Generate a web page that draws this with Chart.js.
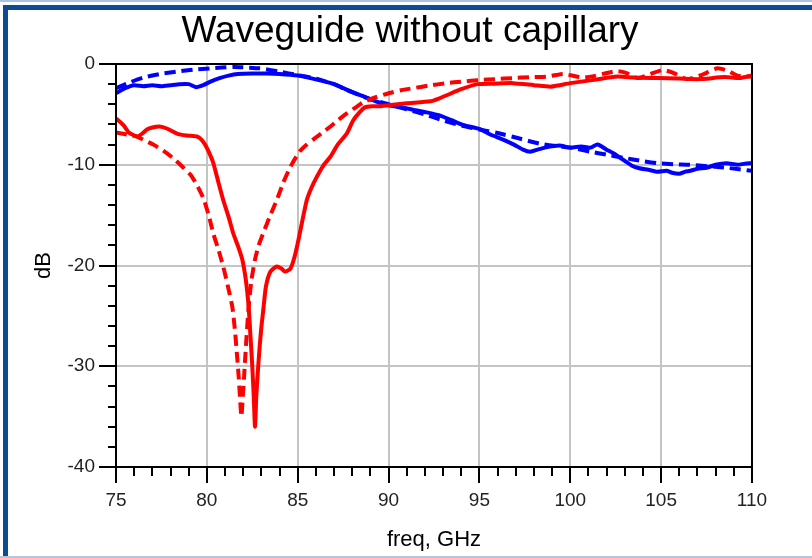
<!DOCTYPE html>
<html>
<head>
<meta charset="utf-8">
<script src="https://cdn.jsdelivr.net/npm/chart.js@4"></script>
<style>
  html, body { margin: 0; padding: 0; background: #fff; }
  #wrap { position: relative; width: 812px; height: 558px; overflow: hidden; }
  #topline { position: absolute; left: 0; top: 0; width: 812px; height: 2px; background: #a9c3e2; }
  #frame { position: absolute; left: 3px; top: 5px; width: 900px; height: 700px;
           border-top: 5px solid #0d4b93; border-left: 5px solid #0d4b93; }
  #botline { position: absolute; left: 0; top: 556px; width: 812px; height: 2px; background: #b9c4d6; }
  canvas { position: absolute; left: 0; top: 0; }
</style>
</head>
<body>
<div id="wrap">
  <div id="topline"></div>
  <div id="frame"></div>
  <div id="botline"></div>
  <canvas id="chart" width="812" height="558"></canvas>
</div>
<script>
// measured, solid red
var redFreq = [75, 75.4, 75.7, 75.95, 76.2, 76.45, 76.7, 77, 77.4, 77.8, 78.35, 78.9, 79.45, 79.7, 79.9, 80.15, 80.35, 80.6, 80.9, 81.2, 81.45, 81.7, 81.95, 82.15, 82.3, 82.4, 82.5, 82.58, 82.65, 82.72, 82.8, 82.9, 83.0, 83.1, 83.25, 83.5, 83.85, 84.1, 84.3, 84.6, 84.8, 85, 85.25, 85.5, 85.75, 86.05, 86.4, 86.8, 87.2, 87.7, 88.05, 88.4, 88.7, 89.1, 89.5, 90, 91, 92.3, 92.8, 93.2, 94, 94.9, 95.8, 96.85, 98, 98.9, 99.4, 100, 101.2, 102.6, 103.5, 104.8, 106, 107.1, 108.5, 109.3, 110];
var redDb = [-5.4, -6.05, -6.8, -7.05, -7.2, -6.9, -6.5, -6.3, -6.2, -6.4, -6.9, -7.1, -7.2, -7.5, -8.0, -8.9, -9.8, -11.5, -13.5, -15.2, -16.8, -18.0, -19.4, -21.5, -24.1, -27, -30.0, -33, -36.0, -33, -30.7, -28.2, -26.1, -24.5, -22.1, -20.6, -20.1, -20.3, -20.6, -20.3, -19.3, -17.8, -15.6, -13.5, -12.3, -11.2, -10.1, -9.2, -8.0, -6.9, -5.6, -4.8, -4.3, -4.2, -4.2, -4.1, -3.9, -3.7, -3.4, -3.1, -2.5, -2.0, -1.95, -1.9, -2.1, -2.25, -2.1, -1.9, -1.6, -1.25, -1.35, -1.4, -1.45, -1.5, -1.3, -1.4, -1.15];

// simulated, dashed red
var redSimFreq = [75, 75.6, 76.15, 76.6, 77.05, 77.6, 78.15, 78.6, 79.1, 79.45, 79.8, 80.1, 80.35, 80.65, 80.9, 81.15, 81.4, 81.55, 81.65, 81.75, 81.82, 81.9, 81.98, 82.05, 82.15, 82.3, 82.45, 82.65, 82.85, 83.1, 83.45, 83.85, 84.2, 84.6, 85.1, 85.5, 85.85, 86.3, 86.8, 87.2, 87.7, 88.2, 88.6, 89.3, 90, 90.7, 91.35, 92.2, 93.2, 94, 95, 95.9, 96.85, 97.8, 98.7, 99.2, 99.6, 100.1, 100.7, 101.3, 102, 102.6, 103.1, 103.7, 104.4, 105.1, 105.7, 106.4, 107.2, 108.1, 108.7, 109.2, 110];
var redSimDb = [-6.8, -7.0, -7.2, -7.6, -8.0, -8.6, -9.35, -10.1, -11.0, -12.0, -13.3, -15.0, -16.8, -18.5, -20.1, -22.0, -24.1, -26.5, -28.7, -31, -33, -35.0, -33, -31, -28, -24.1, -21.5, -19.4, -18.0, -16.8, -15.2, -13.5, -11.8, -10.2, -8.7, -8.0, -7.5, -6.9, -6.2, -5.6, -4.9, -4.3, -3.8, -3.3, -2.9, -2.6, -2.4, -2.15, -1.9, -1.75, -1.6, -1.5, -1.4, -1.3, -1.25, -1.1, -1.0, -1.15, -1.35, -1.2, -0.9, -0.7, -0.9, -1.4, -1.0, -0.6, -0.9, -1.5, -1.1, -0.43, -0.7, -1.15, -1.25];

// measured, solid blue
var blueFreq = [75, 75.5, 76, 76.5, 77, 77.5, 78, 78.5, 79, 79.4, 79.8, 80.2, 80.7, 81.2, 81.7, 82.5, 83.3, 84, 85, 85.7, 86.4, 87, 87.5, 88, 88.6, 89.3, 90, 90.7, 91.4, 92.1, 92.8, 93.5, 94.1, 95, 95.6, 96.3, 96.9, 97.4, 97.8, 98.2, 98.6, 99.4, 100, 100.6, 101.1, 101.5, 102, 102.5, 102.9, 103.4, 103.8, 104.3, 104.8, 105.3, 105.6, 106, 106.3, 106.6, 107, 107.5, 108, 108.6, 109.2, 109.6, 110];
var blueDb = [-2.9, -2.4, -2.1, -2.2, -2.1, -2.2, -2.1, -2.0, -2.0, -2.3, -2.1, -1.75, -1.4, -1.15, -1.0, -0.95, -0.95, -1.0, -1.15, -1.4, -1.7, -2.0, -2.4, -2.8, -3.2, -3.7, -4.1, -4.3, -4.55, -4.8, -5.1, -5.6, -6.05, -6.45, -7.0, -7.5, -8.0, -8.5, -8.7, -8.5, -8.3, -8.1, -8.3, -8.2, -8.3, -8.0, -8.5, -9.0, -9.5, -10.1, -10.35, -10.5, -10.7, -10.6, -10.8, -10.9, -10.7, -10.6, -10.4, -10.3, -10.0, -9.85, -10.0, -9.9, -9.85];

// simulated, dashed blue
var blueSimFreq = [75, 75.8, 76.5, 77.4, 78.35, 79.3, 80.2, 81.45, 82.2, 82.9, 84, 85, 86, 87, 88, 89, 90, 91, 92, 93, 94, 95, 96, 97.1, 98.3, 99.5, 100, 101.1, 102, 102.9, 104, 104.8, 105.7, 106.6, 107.6, 108.6, 110];
var blueSimDb = [-2.4, -1.8, -1.35, -1.0, -0.76, -0.55, -0.43, -0.3, -0.35, -0.43, -0.76, -1.1, -1.45, -2.0, -2.8, -3.5, -4.0, -4.5, -5.0, -5.6, -6.1, -6.5, -6.85, -7.35, -7.9, -8.2, -8.3, -8.7, -9.0, -9.3, -9.65, -9.85, -9.95, -10.0, -10.15, -10.3, -10.6];

function pts(xs, ys) {
    return xs.map(function (x, i) { return { x: x, y: ys[i] }; });
}

// small ticks between labelled ones, and the box round the plot
var frame = {
    id: 'frame',
    afterDraw: function (chart) {
        var c = chart.ctx, a = chart.chartArea;
        var xs = chart.scales.x, ys = chart.scales.y;
        c.save();
        c.strokeStyle = '#000';
        c.lineWidth = 2;
        c.beginPath();
        for (var f = 76; f < 110; f++) {
            if (f % 5 === 0) continue;
            var px = Math.round(xs.getPixelForValue(f));
            c.moveTo(px, a.bottom);
            c.lineTo(px, a.bottom + 9);
        }
        for (var d = -38; d < 0; d += 2) {
            if (d % 10 === 0) continue;
            var py = Math.round(ys.getPixelForValue(d));
            c.moveTo(a.left - 8, py);
            c.lineTo(a.left, py);
        }
        c.stroke();
        c.strokeRect(a.left, a.top, a.right - a.left, a.bottom - a.top);
        c.restore();
    }
};

var ctx = document.getElementById('chart').getContext('2d');
var chart = new Chart(ctx, {
    type: 'line',
    data: {
        datasets: [{
            label: 'meas red',
            data: pts(redFreq, redDb),
            borderColor: '#ff0000',
            borderWidth: 4
        }, {
            label: 'sim red',
            data: pts(redSimFreq, redSimDb),
            borderColor: '#ff0000',
            borderWidth: 4,
            borderDash: [11, 6]
        }, {
            label: 'meas blue',
            data: pts(blueFreq, blueDb),
            borderColor: '#0000ff',
            borderWidth: 4
        }, {
            label: 'sim blue',
            data: pts(blueSimFreq, blueSimDb),
            borderColor: '#0000ff',
            borderWidth: 4,
            borderDash: [11, 6]
        }]
    },
    options: {
        responsive: false,
        animation: false,
        parsing: false,
        elements: { point: { radius: 0 }, line: { tension: 0.2 } },
        layout: { padding: { left: 8, right: 0, top: 0, bottom: 0 } },
        plugins: {
            legend: { display: false },
            tooltip: { enabled: false },
            title: {
                display: true,
                text: 'Waveguide without capillary',
                color: '#000',
                font: { family: 'Liberation Sans', size: 37, weight: 'normal' },
                padding: { top: 10, bottom: 9.6 }
            }
        },
        scales: {
            x: {
                type: 'linear',
                min: 75,
                max: 110,
                ticks: { stepSize: 5, color: '#222', padding: 6, font: { family: 'Liberation Sans', size: 19 } },
                grid: { color: '#c4c4c4', lineWidth: 2, tickColor: '#000', tickLength: 16, tickWidth: 2 },
                border: { color: '#000', width: 2 },
                title: { display: true, text: 'freq, GHz', color: '#000',
                         font: { family: 'Liberation Sans', size: 22 }, padding: { top: 0, bottom: 5 } },
                afterFit: function (s) { s.height = 91; }
            },
            y: {
                min: -40,
                max: 0,
                ticks: { stepSize: 10, color: '#222', padding: 4, font: { family: 'Liberation Sans', size: 19 } },
                grid: { color: '#c4c4c4', lineWidth: 2, tickColor: '#000', tickLength: 17, tickWidth: 2 },
                border: { color: '#000', width: 2 },
                title: { display: true, text: 'dB', color: '#000',
                         font: { family: 'Liberation Sans', size: 22 }, padding: { top: 23, bottom: 0 } },
                afterFit: function (s) { s.width = 108; }
            },
            // empty right margin so the title centres on the whole slide
            y2: {
                position: 'right',
                min: -40,
                max: 0,
                ticks: { display: false },
                grid: { display: false, drawTicks: false },
                border: { display: false },
                afterFit: function (s) { s.width = 60; }
            }
        }
    },
    plugins: [frame]
});
</script>
</body>
</html>
